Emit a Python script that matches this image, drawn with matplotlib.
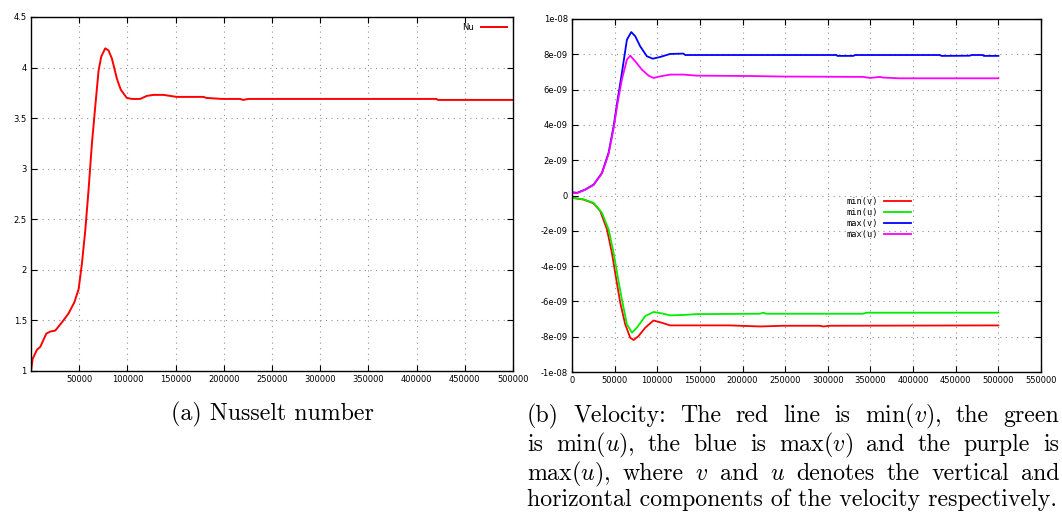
import numpy as np
import matplotlib
matplotlib.use("Agg")
import matplotlib.pyplot as plt

plt.rcParams['mathtext.fontset'] = 'cm'

# Nusselt number history
nu_step = [0, 1700, 6200, 9700, 15900, 20000, 25200, 32000, 39000, 45000, 49400,
           52800, 56300, 59700, 63200, 66600, 70100, 72900, 77000, 80400, 83900,
           89100, 93200, 99400, 104600, 113300, 120200, 127100, 137400, 151200,
           178800, 182000, 197900, 216900, 220000, 225500, 420600, 422000, 500000]
nu_val = [1.0, 1.12, 1.21, 1.24, 1.37, 1.39, 1.40, 1.48, 1.57, 1.68, 1.81,
          2.06, 2.39, 2.79, 3.25, 3.61, 3.97, 4.11, 4.19, 4.17, 4.09,
          3.89, 3.78, 3.70, 3.69, 3.69, 3.72, 3.73, 3.73, 3.71,
          3.71, 3.70, 3.69, 3.69, 3.68, 3.69, 3.69, 3.68, 3.68]

# velocity extrema (units of 1e-9)
maxv_step = [0, 5900, 15600, 25400, 35100, 42900, 48800, 53500, 58500, 64400,
             69500, 74200, 80000, 87800, 94800, 103400, 115100, 130700, 132700,
             310300, 311000, 330000, 331800, 431300, 433300, 466400, 468400,
             482000, 482800, 500000]
maxv_val = [0.19, 0.15, 0.34, 0.62, 1.28, 2.42, 3.92, 5.43, 6.94, 8.83,
            9.26, 9.02, 8.45, 7.89, 7.75, 7.85, 8.02, 8.04, 7.96,
            7.96, 7.91, 7.91, 7.96, 7.96, 7.91, 7.92, 7.96,
            7.96, 7.91, 7.91]

maxu_step = [0, 5900, 15600, 25400, 35100, 42900, 48800, 53500, 58500, 64400,
             68300, 74200, 82000, 89800, 95600, 103400, 115100, 130700, 146300,
             208800, 247900, 341600, 349400, 361000, 365000, 384500, 500000]
maxu_val = [0.15, 0.13, 0.33, 0.60, 1.25, 2.35, 3.80, 5.25, 6.57, 7.70,
            7.92, 7.60, 7.13, 6.79, 6.66, 6.75, 6.85, 6.85, 6.79,
            6.77, 6.74, 6.72, 6.66, 6.72, 6.68, 6.64, 6.64]

minv_step = [0, 13700, 25400, 33200, 41000, 46800, 51900, 56600, 62400, 68300,
             72200, 78100, 85900, 95600, 105400, 115100, 185400, 220500, 247900,
             290800, 294700, 302500, 500000]
minv_val = [-0.13, -0.23, -0.45, -0.89, -1.92, -3.25, -4.75, -6.08, -7.30, -8.06,
            -8.19, -7.96, -7.49, -7.08, -7.21, -7.36, -7.36, -7.42, -7.38,
            -7.38, -7.42, -7.38, -7.36]

minu_step = [0, 13700, 25400, 35100, 42900, 48800, 53500, 58500, 64400, 70300,
             76100, 85900, 95600, 105400, 115100, 130700, 146300, 220000, 224400,
             228000, 341000, 345600, 431300, 500000]
minu_val = [-0.13, -0.22, -0.42, -0.98, -1.92, -3.25, -4.57, -5.89, -7.30, -7.77,
            -7.49, -6.83, -6.60, -6.68, -6.79, -6.77, -6.72, -6.70, -6.64,
            -6.70, -6.70, -6.64, -6.64, -6.64]

W, H = 1062, 512
fig = plt.figure(figsize=(W / 100, H / 100), dpi=100)


def px_axes(l, t, r, b):
    return fig.add_axes([l / W, 1 - b / H, (r - l) / W, (b - t) / H])


def gnuplot_style(ax):
    ax.grid(True, color='#909090', linestyle=(0, (1, 4)), linewidth=0.8)
    ax.tick_params(direction='in', length=4, width=0.8, top=True, right=True,
                   labelsize=6, pad=3)
    for s in ax.spines.values():
        s.set_linewidth(1.0)


# (a) Nusselt number
ax1 = px_axes(31, 17, 513, 371)
ax1.plot(nu_step, nu_val, color='#ff0000', lw=1.4, label='Nu')
ax1.set_xlim(0, 500000)
ax1.set_ylim(1, 4.5)
ax1.set_xticks(np.arange(50000, 500001, 50000))
ax1.set_yticks(np.arange(1, 4.51, 0.5))
ax1.set_yticklabels(['1', '1.5', '2', '2.5', '3', '3.5', '4', '4.5'])
gnuplot_style(ax1)
ax1.legend(loc='upper right', frameon=False, markerfirst=False, handlelength=3.2,
           prop={'family': 'DejaVu Sans', 'size': 6}, borderaxespad=0.3,
           handletextpad=0.8)

# (b) velocity
ax2 = px_axes(572, 19, 1041, 372)
ax2.plot(minv_step, np.array(minv_val) * 1e-9, color='#ff0000', lw=1.3, label='min(v)')
ax2.plot(minu_step, np.array(minu_val) * 1e-9, color='#00ee00', lw=1.3, label='min(u)')
ax2.plot(maxv_step, np.array(maxv_val) * 1e-9, color='#0000ff', lw=1.3, label='max(v)')
ax2.plot(maxu_step, np.array(maxu_val) * 1e-9, color='#ff00ff', lw=1.3, label='max(u)')
ax2.set_xlim(0, 550000)
ax2.set_ylim(-1e-8, 1e-8)
ax2.set_xticks(np.arange(0, 550001, 50000))
ax2.set_xticklabels([str(v) for v in range(0, 550001, 50000)])
yt = np.arange(-10, 11, 2)
ax2.set_yticks(yt * 1e-9)
ax2.set_yticklabels(['-1e-08', '-8e-09', '-6e-09', '-4e-09', '-2e-09', '0',
                     '2e-09', '4e-09', '6e-09', '8e-09', '1e-08'])
gnuplot_style(ax2)
ax2.legend(loc='center', bbox_to_anchor=((879 - 572) / 469, 1 - (218 - 19) / 353),
           frameon=False, markerfirst=False, handlelength=3.2,
           prop={'family': 'DejaVu Sans Mono', 'size': 6.2},
           labelspacing=0.25, handletextpad=0.6)

# captions
cap = dict(family='cmr10', size=17.2)
fig.text(272 / W, 1 - 420 / H, '(a) Nusselt number', ha='center', va='baseline', **cap)

lines = [
    r'(b) Velocity:  The red line is $\min(v)$, the green',
    r'is $\min(u)$, the blue is $\max(v)$ and the purple is',
    r'$\max(u)$, where $v$ and $u$ denotes the vertical and',
    r'horizontal components of the velocity respectively.',
]
x0, x1 = 527, 1059
base = [422, 451, 480, 506]
renderer = fig.canvas.get_renderer()
for i, line in enumerate(lines):
    y = 1 - base[i] / H
    if i == len(lines) - 1:
        fig.text(x0 / W, y, line, ha='left', va='baseline', **cap)
        continue
    words = line.split()
    texts = [fig.text(0, y, w, ha='left', va='baseline', **cap) for w in words]
    widths = [t.get_window_extent(renderer).width for t in texts]
    gap = (x1 - x0 - sum(widths)) / (len(words) - 1)
    x = x0
    for t, w in zip(texts, widths):
        t.set_x(x / W)
        x += w + gap

fig.savefig('out.png', dpi=100)
